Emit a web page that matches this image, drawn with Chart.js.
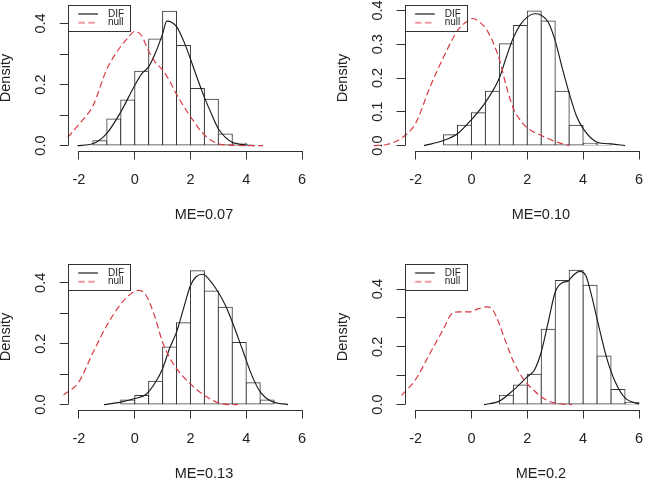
<!DOCTYPE html>
<html><head><meta charset="utf-8">
<script src="https://cdn.jsdelivr.net/npm/chart.js@4.4.1/dist/chart.umd.min.js"></script>
<style>
html,body{margin:0;padding:0;background:#fff;overflow:hidden;width:649px;height:479px;position:relative;}
.p{position:absolute;}
canvas{display:block;}
</style></head><body>
<div class="p" style="left:0px;top:0px"><canvas id="c1" width="345" height="240"></canvas></div>
<div class="p" style="left:337px;top:0px"><canvas id="c2" width="345" height="240"></canvas></div>
<div class="p" style="left:0px;top:259px"><canvas id="c3" width="345" height="240"></canvas></div>
<div class="p" style="left:337px;top:259px"><canvas id="c4" width="345" height="240"></canvas></div>
<script>
// ---------- data ----------
const seriesNames = ['DIF', 'null'];
const xTicks = [-2, 0, 2, 4, 6];
const xTickLabels = ['-2', '0', '2', '4', '6'];
const yTitle = 'Density';
const panelTitles = ['ME=0.07', 'ME=0.10', 'ME=0.13', 'ME=0.2'];

// panel 1
const bins1 = [-1.25, -0.75, -0.25, 0.25, 0.75, 1.25, 1.75, 2.25, 2.75, 3.25, 3.75];
const hist1 = [0.016, 0.087, 0.149, 0.244, 0.349, 0.440, 0.328, 0.187, 0.152, 0.038, 0.008];
const difX1 = [-2.05, -1.5, -1.0, -0.5, 0, 0.25, 0.5, 0.75, 1.0, 1.15, 1.5, 1.75, 2.0, 2.25, 2.5, 2.75, 3.0, 3.25, 3.5, 4.0, 4.3];
const difY1 = [0, 0.006, 0.04, 0.11, 0.197, 0.235, 0.258, 0.305, 0.366, 0.408, 0.39, 0.344, 0.284, 0.219, 0.158, 0.104, 0.055, 0.027, 0.011, 0.002, 0];
const nullX1 = [-2.4, -2.0, -1.5, -1.0, -0.5, -0.25, 0, 0.25, 0.5, 0.75, 1.0, 1.25, 1.5, 2.0, 2.5, 3.0, 3.5, 4.0, 4.6];
const nullY1 = [0.027, 0.07, 0.13, 0.25, 0.325, 0.352, 0.374, 0.36, 0.31, 0.272, 0.248, 0.212, 0.168, 0.095, 0.035, 0.006, 0.001, 0, 0];
const yTicks1 = [0, 0.1, 0.2, 0.3, 0.4];
const yTickLabels1 = ['0.0', '', '0.2', '', '0.4'];
const yMax1 = 0.443;

// panel 2
const bins2 = [-0.75, -0.25, 0.25, 0.75, 1.25, 1.75, 2.25, 2.75, 3.25, 3.75, 4.25, 4.75];
const hist2 = [0.032, 0.060, 0.097, 0.161, 0.301, 0.355, 0.398, 0.369, 0.161, 0.060, 0.007, 0.005];
const difX2 = [-1.7, -1.0, -0.5, 0, 0.5, 1.0, 1.25, 1.5, 1.75, 2.0, 2.25, 2.5, 2.75, 3.0, 3.25, 3.5, 3.75, 4.0, 4.5, 5.0, 5.5];
const difY2 = [0, 0.015, 0.035, 0.077, 0.128, 0.2, 0.262, 0.319, 0.358, 0.38, 0.39, 0.386, 0.365, 0.31, 0.23, 0.155, 0.09, 0.05, 0.01, 0.005, 0];
const nullX2 = [-3.5, -3.0, -2.5, -2.0, -1.5, -1.0, -0.5, -0.25, 0.05, 0.3, 0.6, 1.0, 1.25, 1.5, 1.75, 2.0, 2.5, 3.0, 3.5];
const nullY2 = [0, 0.004, 0.022, 0.066, 0.17, 0.262, 0.34, 0.362, 0.376, 0.365, 0.335, 0.255, 0.175, 0.11, 0.075, 0.052, 0.03, 0.012, 0];
const yTicks2 = [0, 0.1, 0.2, 0.3, 0.4];
const yTickLabels2 = ['0.0', '0.1', '0.2', '0.3', '0.4'];
const yMax2 = 0.400;

// panel 3
const bins3 = [-0.25, 0.25, 0.75, 1.25, 1.75, 2.25, 2.75, 3.25, 3.75, 4.25, 4.75];
const hist3 = [0.015, 0.030, 0.077, 0.189, 0.269, 0.440, 0.373, 0.320, 0.204, 0.072, 0.015];
const difX3 = [-1.1, -0.5, 0, 0.4, 0.75, 1.0, 1.25, 1.5, 1.75, 2.0, 2.2, 2.45, 2.65, 3.0, 3.25, 3.5, 3.85, 4.2, 4.5, 4.9, 5.5];
const difY3 = [0, 0.008, 0.02, 0.033, 0.074, 0.118, 0.184, 0.238, 0.315, 0.391, 0.42, 0.428, 0.413, 0.369, 0.326, 0.271, 0.184, 0.096, 0.042, 0.011, 0];
const nullX3 = [-2.55, -2.0, -1.5, -1.0, -0.5, -0.25, 0, 0.15, 0.4, 0.7, 1.0, 1.25, 1.5, 2.0, 2.5, 3.0, 3.5, 3.7];
const nullY3 = [0.031, 0.075, 0.17, 0.26, 0.33, 0.355, 0.372, 0.375, 0.36, 0.295, 0.205, 0.155, 0.118, 0.068, 0.03, 0.006, 0, 0];
const yTicks3 = [0, 0.1, 0.2, 0.3, 0.4];
const yTickLabels3 = ['0.0', '', '0.2', '', '0.4'];
const yMax3 = 0.444;

// panel 4
const bins4 = [1.25, 1.75, 2.25, 2.75, 3.25, 3.75, 4.25, 4.75, 5.25, 5.75];
const hist4 = [0.032, 0.068, 0.105, 0.261, 0.430, 0.465, 0.413, 0.168, 0.052, 0.007];
const difX4 = [0.45, 1.0, 1.5, 2.0, 2.25, 2.5, 2.75, 3.0, 3.25, 3.45, 3.65, 3.88, 4.1, 4.3, 4.55, 4.85, 5.15, 5.5, 6.0];
const difY4 = [0, 0.012, 0.05, 0.096, 0.119, 0.182, 0.286, 0.39, 0.422, 0.427, 0.448, 0.461, 0.445, 0.378, 0.275, 0.159, 0.078, 0.023, 0.002];
const nullX4 = [-2.5, -2.0, -1.5, -1.0, -0.7, -0.45, -0.05, 0.25, 0.55, 0.75, 0.95, 1.25, 1.5, 1.85, 2.25, 2.7, 3.2, 3.6];
const nullY4 = [0.032, 0.087, 0.175, 0.262, 0.315, 0.321, 0.321, 0.332, 0.338, 0.33, 0.29, 0.212, 0.15, 0.09, 0.048, 0.015, 0.002, 0];
const yTicks4 = [0, 0.1, 0.2, 0.3, 0.4];
const yTickLabels4 = ['0.0', '', '0.2', '', '0.4'];
const yMax4 = 0.468;

// ---------- styling / layout ----------
const FONT = "'Liberation Sans', Arial, Helvetica, sans-serif";
Chart.defaults.font.family = FONT;
Chart.defaults.font.size = 14.5;
const TEXT = '#222';
const AXIS = '#333';
const BAR_EDGE = '#3a3a3a';
const DIF_COLOR = '#1a1a1a';
const NULL_COLOR = '#D93A44';
const NULL_DASH = [6.5, 3.5];
const X_MIN = -2.38, X_MAX = 7.35;

function swatch(color, dash) {
  const c = document.createElement('canvas');
  c.width = 36; c.height = 4;
  const g = c.getContext('2d');
  g.strokeStyle = color; g.lineWidth = 1.2; g.setLineDash(dash);
  g.beginPath(); g.moveTo(11.3, 2); g.lineTo(31, 2); g.stroke();
  return c;
}
const swatches = [swatch(DIF_COLOR, []), swatch(NULL_COLOR, NULL_DASH)];

const rStyle = {
  id: 'rStyle',
  beforeDraw(chart) {
    const lg = chart.legend, ca = chart.chartArea;
    lg.left = ca.left; lg.right = ca.right;
    lg.top = ca.top; lg.bottom = ca.bottom;
  },
  afterDatasetsDraw(chart) {
    const {ctx, chartArea: ca, scales: {x, y}} = chart;
    ctx.save();
    ctx.strokeStyle = AXIS; ctx.lineWidth = 1; ctx.setLineDash([]);
    ctx.beginPath();
    const xa = Math.floor(ca.bottom) + 0.5;
    ctx.moveTo(x.getPixelForValue(x.ticks[0].value), xa);
    ctx.lineTo(x.getPixelForValue(x.ticks[x.ticks.length - 1].value), xa);
    const ya = Math.floor(ca.left) + 0.5;
    ctx.moveTo(ya, y.getPixelForValue(y.ticks[0].value));
    ctx.lineTo(ya, y.getPixelForValue(y.ticks[y.ticks.length - 1].value));
    ctx.stroke();
    // legend frame
    ctx.strokeRect(ya, Math.floor(ca.top) + 0.5, 62, 26);
    ctx.restore();
  }
};

function pts(xs, ys) { return xs.map((v, i) => ({x: v, y: ys[i]})); }

function makeChart(id, yAxisWidth, bins, hist, difX, difY, nullX, nullY, yTicks, yLabels, yMax, title) {
  new Chart(document.getElementById(id), {
    type: 'bar',
    data: {
      datasets: [
        {
          type: 'bar', label: 'hist', data: pts(bins, hist), order: 3,
          backgroundColor: '#ffffff', borderColor: BAR_EDGE, borderWidth: 1,
          borderSkipped: false, inflateAmount: 0.5,
          barPercentage: 1, categoryPercentage: 1, grouped: false
        },
        {
          type: 'line', label: seriesNames[0], data: pts(difX, difY), order: 2,
          borderColor: DIF_COLOR, borderWidth: 1.15, pointRadius: 0,
          cubicInterpolationMode: 'monotone', capBezierPoints: false, clip: false, fill: false
        },
        {
          type: 'line', label: seriesNames[1], data: pts(nullX, nullY), order: 1,
          borderColor: NULL_COLOR, borderWidth: 1.2, borderDash: NULL_DASH, pointRadius: 0,
          cubicInterpolationMode: 'monotone', capBezierPoints: false, clip: false, fill: false
        }
      ]
    },
    options: {
      responsive: false, animation: false, devicePixelRatio: 1,
      layout: {padding: {top: 5, right: 5.3, bottom: 0, left: 0}},
      plugins: {
        tooltip: {enabled: false},
        legend: {
          display: true, position: 'chartArea', align: 'start',
          title: {display: true, text: '', padding: 0, font: {size: 5.3, lineHeight: 1}},
          labels: {
            usePointStyle: true, pointStyleWidth: 36, padding: -1.3,
            font: {size: 10, family: FONT}, color: TEXT,
            generateLabels: (chart) => [1, 2].map(i => ({
              text: chart.data.datasets[i].label, fontColor: TEXT,
              pointStyle: swatches[i - 1], datasetIndex: i, hidden: false,
              lineWidth: 0, strokeStyle: chart.data.datasets[i].borderColor,
              fillStyle: chart.data.datasets[i].borderColor
            }))
          }
        }
      },
      scales: {
        x: {
          type: 'linear', position: 'bottom', bounds: 'data', offset: false,
          afterDataLimits: s => { s.min = X_MIN; s.max = X_MAX; },
          afterBuildTicks: s => { s.ticks = xTicks.map(v => ({value: v})); },
          afterFit: s => { s.height = 89; s.paddingLeft = 0; s.paddingRight = 0; },
          grid: {display: true, offset: false, drawOnChartArea: false, drawTicks: true, tickLength: 8.5, color: AXIS, lineWidth: 1},
          border: {display: false},
          ticks: {
            autoSkip: false, maxRotation: 0, minRotation: 0, padding: 11.8, color: TEXT,
            font: {size: 14.5},
            callback: (v, i) => xTickLabels[i]
          },
          title: {display: true, text: title, color: TEXT, font: {size: 14.5}, padding: {top: 0, bottom: 16.8}}
        },
        y: {
          type: 'linear', position: 'left', bounds: 'data',
          min: -0.04 * yMax, max: 1.04 * yMax,
          afterBuildTicks: s => { s.ticks = yTicks.map(v => ({value: v})); },
          afterFit: s => { s.width = yAxisWidth; s.paddingTop = 0; s.paddingBottom = 0; },
          grid: {display: true, drawOnChartArea: false, drawTicks: true, tickLength: 8.5, color: AXIS, lineWidth: 1},
          border: {display: false},
          ticks: {
            autoSkip: false, minRotation: 90, maxRotation: 90, crossAlign: 'center', padding: 8.4,
            color: TEXT, font: {size: 14.5},
            callback: (v, i) => yLabels[i]
          },
          title: {display: true, text: yTitle, color: TEXT, font: {size: 14.5, lineHeight: 1}, padding: {top: -1.2, bottom: 0}}
        }
      }
    },
    plugins: [rStyle]
  });
}

makeChart('c1', 68.3, bins1, hist1, difX1, difY1, nullX1, nullY1, yTicks1, yTickLabels1, yMax1, panelTitles[0]);
makeChart('c2', 68, bins2, hist2, difX2, difY2, nullX2, nullY2, yTicks2, yTickLabels2, yMax2, panelTitles[1]);
makeChart('c3', 68.3, bins3, hist3, difX3, difY3, nullX3, nullY3, yTicks3, yTickLabels3, yMax3, panelTitles[2]);
makeChart('c4', 68, bins4, hist4, difX4, difY4, nullX4, nullY4, yTicks4, yTickLabels4, yMax4, panelTitles[3]);
</script>
</body></html>
